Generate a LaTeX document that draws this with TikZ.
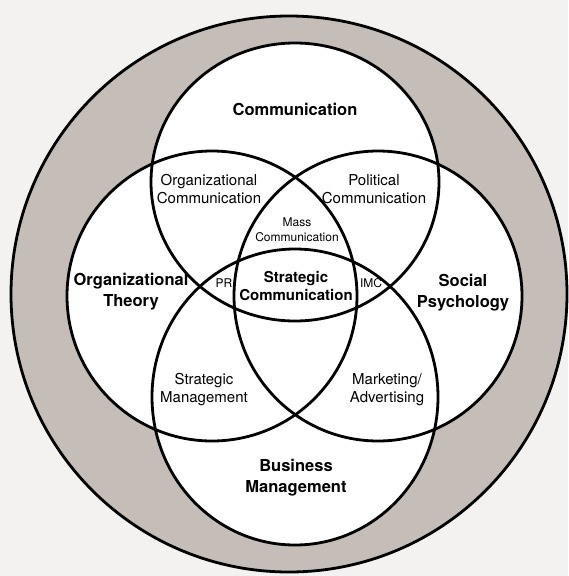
\documentclass[tikz,border=0pt]{standalone}
\usepackage{fontspec}
\setmainfont{TeX Gyre Heros}
\usepackage{tikz}
\definecolor{paper}{HTML}{F3F2F0}
\definecolor{ring}{HTML}{C4BDB8}
\tikzset{
  field/.style={font=\fontsize{16.5}{21}\selectfont\bfseries,align=center},
  core/.style={font=\fontsize{15}{18}\selectfont\bfseries,align=center},
  overlap/.style={font=\fontsize{15}{18}\selectfont,align=center},
  minor/.style={font=\fontsize{12}{15}\selectfont,align=center},
  rim/.style={line width=2.8pt},
}

\begin{document}
\begin{tikzpicture}[x=1pt,y=-1pt]
        \fill[paper] (0,0) rectangle (568,576);
        \useasboundingbox (0,0) rectangle (568,576);

        % grey ring, then the four fields on top of it
        \fill[ring] (289,294) circle (278);
        \fill[white]
        (295,182) ellipse (144 and 139)
        (212,296) ellipse (145 and 145)
        (378,296) ellipse (144 and 145)
        (295,397) ellipse (143 and 148)
        ;
        \draw[rim] (289,294) circle (278);
        \draw[rim] (295,182) ellipse (144 and 139);
        \draw[rim] (212,296) ellipse (145 and 145);
        \draw[rim] (378,296) ellipse (144 and 145);
        \draw[rim] (295,397) ellipse (143 and 148);

        \path
        (295,109) node[field](comm) {Communication}
        (131,292) node[field](orgtheory) {Organizational\\Theory}
        (463,293) node[field](socpsy) {Social\\Psychology}
        (296,478) node[field](busmgmt) {Business\\Management}
        ;

        \path
        (209,189) node[overlap](orgcomm) {Organizational\\Communication}
        (374,189) node[overlap](polcomm) {Political\\Communication}
        (204,390) node[overlap](stratmgmt) {Strategic\\Management}
        (387,390) node[overlap](marketing) {Marketing/\\Advertising}
        ;

        \path
        (297,230) node[minor](masscomm) {Mass\\Communication}
        (224,283) node[minor](pr) {PR}
        (371,283) node[minor](imc) {IMC}
        (296,286) node[core](stratcomm) {Strategic\\Communication}
        ;
      \end{tikzpicture}
\end{document}
